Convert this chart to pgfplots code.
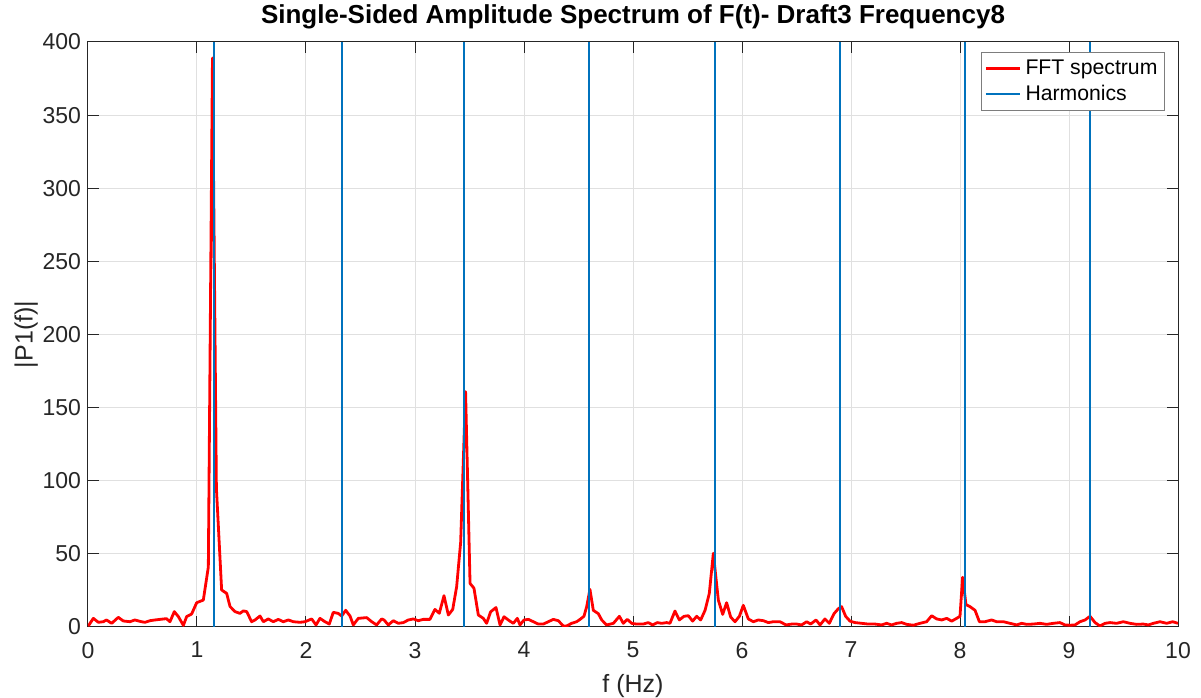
\documentclass[border=0pt]{standalone}
\usepackage{fontspec}
\setmainfont{Liberation Sans}
\usepackage{pgfplots}
\pgfplotsset{compat=1.18}
\usetikzlibrary{calc}
\definecolor{mlBlue}{rgb}{0,0.447,0.741}
\definecolor{mlAxis}{rgb}{0.15,0.15,0.15}
\definecolor{mlGrid}{rgb}{0.88,0.88,0.88}

\begin{document}
\begin{tikzpicture}
\begin{axis}[
  scale only axis, width=545pt, height=292.5pt,
  xmin=0, xmax=10, ymin=0, ymax=400,
  xtick={0,1,...,10}, ytick={0,50,...,400},
  /pgf/number format/assume math mode=true,
  tick label style={font=\fontsize{11.5}{13}\selectfont, text=mlAxis},
  xticklabel style={yshift=-4pt},
  label style={font=\fontsize{12.5}{14}\selectfont, text=mlAxis},
  title style={font=\bfseries\fontsize{13}{15}\selectfont, yshift=-3pt},
  title={Single-Sided Amplitude Spectrum of F(t)- Draft3 Frequency8},
  xlabel={f (Hz)}, ylabel={|P1(f)|},
  xlabel style={yshift=-1pt}, ylabel style={yshift=-4.5pt},
  axis line style={mlAxis, line width=0.5pt},
  tick style={mlAxis, line width=0.5pt},
  major tick length=5.5pt, tick align=inside, tickpos=both,
  grid=major, grid style={mlGrid, line width=0.5pt},
  legend style={at={(rel axis cs:0.988,0.983)}, anchor=north east,
    font=\fontsize{10.6}{13}\selectfont, draw=mlAxis!60, fill=white,
    inner sep=1.5pt, row sep=0pt, line width=0.5pt},
  legend cell align=left,
  legend image code/.code={\draw[#1] (0cm,0cm) -- (0.6cm,0cm);},
]
\addplot[red, line width=1.4pt, line join=round] coordinates {
(0.0,0.8) (0.009,1.4) (0.049,5.9) (0.095,3.2) (0.14,3.6) (0.17,4.8) (0.217,2.5)
(0.278,6.6) (0.324,4.1) (0.385,3.6) (0.43,4.8) (0.49,3.6) (0.523,3.2) (0.569,4.3)
(0.615,4.8) (0.66,5.2) (0.72,5.7) (0.752,3.6) (0.792,10.5) (0.829,7.1) (0.875,1.1)
(0.905,7.1) (0.951,8.9) (0.997,16.6) (1.058,18.4) (1.104,41) (1.142,389)
(1.178,95) (1.226,25.3) (1.272,23) (1.303,14) (1.349,10.5) (1.394,9.3) (1.425,11)
(1.456,10.5) (1.501,3.6) (1.532,4.8) (1.578,7.5) (1.609,3.6) (1.654,5.5) (1.7,3.6)
(1.746,5.2) (1.792,3.6) (1.838,4.8) (1.884,3.6) (1.945,3.2) (1.991,3.6) (2.052,5.5)
(2.092,1.4) (2.128,5.9) (2.174,3.6) (2.214,2) (2.25,10) (2.296,9.3) (2.327,7.5)
(2.364,11.4) (2.404,7.5) (2.434,1.4) (2.48,5.9) (2.557,6.4) (2.603,3.6) (2.648,1.4)
(2.694,5.5) (2.716,4.8) (2.755,1.4) (2.801,4.3) (2.847,2.5) (2.893,3) (2.939,4.8)
(2.985,5.5) (3.03,4.3) (3.076,5.2) (3.137,5.2) (3.183,12) (3.223,9.4) (3.266,21.4)
(3.306,8.2) (3.346,12) (3.382,27.5) (3.419,58) (3.464,160.9) (3.505,29.8)
(3.541,26.5) (3.581,8.2) (3.627,5.9) (3.657,2.5) (3.694,10.4) (3.743,13.3)
(3.780,1.4) (3.817,7) (3.865,4.3) (3.902,2.5) (3.939,5.9) (3.963,1.4) (4.0,4.8)
(4.04,5.2) (4.086,3.6) (4.131,2) (4.177,2) (4.223,3.6) (4.269,5.2) (4.315,4.3)
(4.36,0.7) (4.391,0.7) (4.437,2.5) (4.483,3.6) (4.514,5.2) (4.55,7.3) (4.575,13.9)
(4.605,25.7) (4.636,11.4) (4.682,9.1) (4.713,4.8) (4.758,1.4) (4.82,2.5) (4.875,7.3)
(4.911,2.5) (4.948,5.2) (4.988,2.5) (5.034,2) (5.094,2) (5.14,3) (5.18,1.4)
(5.223,3) (5.263,2.5) (5.309,3) (5.339,2.5) (5.385,10.9) (5.425,4.8) (5.468,7.3)
(5.508,7.7) (5.547,4) (5.584,7.3) (5.621,4.8) (5.661,11.4) (5.7,22.9) (5.737,50.4)
(5.783,18.4) (5.823,8.6) (5.859,16.6) (5.896,6.8) (5.936,3.6) (5.976,7.3)
(6.012,14.8) (6.058,5.5) (6.104,3.6) (6.15,4.8) (6.196,4.3) (6.242,3) (6.287,3.6)
(6.349,3.6) (6.404,1.4) (6.456,2) (6.502,2) (6.547,1.4) (6.593,3.6) (6.63,2)
(6.679,4.8) (6.716,1.4) (6.761,5.5) (6.801,2.5) (6.844,9.1) (6.884,12.5) (6.914,13.9)
(6.951,7.3) (6.991,4) (7.037,3) (7.098,2.5) (7.159,2) (7.22,2) (7.281,1.4) (7.327,2.5)
(7.373,1.4) (7.419,2.5) (7.465,3) (7.511,1.8) (7.572,1.2) (7.633,2.5) (7.694,3.6)
(7.740,7.7) (7.786,5.5) (7.832,4.8) (7.878,5.9) (7.924,4) (7.969,5.9) (8.0,7.3)
(8.024,34) (8.055,15.3) (8.092,13.9) (8.138,11.4) (8.178,3.6) (8.229,3.6) (8.29,4.8)
(8.336,3.6) (8.398,3.6) (8.459,2.5) (8.52,1.4) (8.566,2.5) (8.612,1.8) (8.673,2)
(8.734,2.5) (8.795,1.8) (8.856,2.5) (8.917,3) (8.963,1.4) (9.009,1.2) (9.055,1.4)
(9.101,3.6) (9.147,4.8) (9.193,7.3) (9.239,3) (9.284,0.7) (9.33,2.5) (9.376,3)
(9.437,2.5) (9.498,3.6) (9.56,2.5) (9.621,1.8) (9.682,2) (9.728,1.4) (9.774,2.5)
(9.835,3.6) (9.896,2.5) (9.951,3.6) (10.0,2.5)
};
\addlegendentry{FFT spectrum}
\addplot[mlBlue, line width=1pt, ycomb, no marks] coordinates {
(1.153,400) (2.333,400) (3.453,400) (4.599,400) (5.749,400) (6.896,400) (8.043,400) (9.19,400)
};
\addlegendentry{Harmonics}
\coordinate (sw) at (rel axis cs:0,0);
\coordinate (ne) at (rel axis cs:1,1);
\end{axis}
\pgfresetboundingbox
\path[use as bounding box] ($(sw)+(-44pt,-35.5pt)$) rectangle ($(ne)+(11.5pt,21pt)$);
\end{tikzpicture}
\end{document}
